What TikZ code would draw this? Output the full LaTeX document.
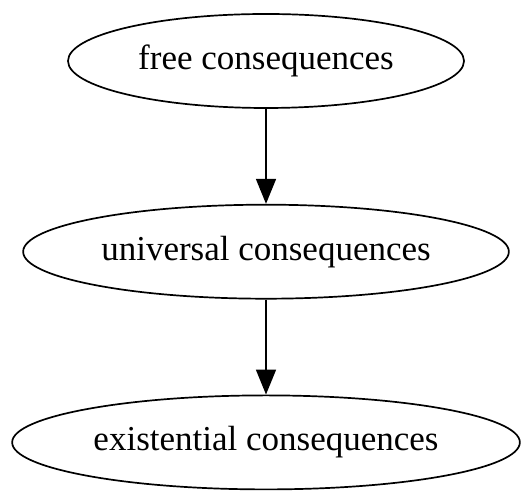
\documentclass[tikz,border=0pt]{standalone}
\usepackage{fontspec}
\setmainfont{Liberation Serif}
\usetikzlibrary{shapes.geometric,positioning,arrows.meta}

\begin{document}
\begin{tikzpicture}[x=1pt,y=1pt,
  conseq/.style={ellipse, draw, line width=1.7pt, inner xsep=7pt, inner ysep=0pt,
    minimum height=94pt, font=\fontsize{35}{42}\selectfont},
  implies/.style={-{Triangle[length=25pt,width=20pt]}, line width=1.7pt},
  node distance=95pt]

% Frame
\useasboundingbox (0,0) rectangle (524,494);

% Nodes
\node[conseq, minimum width=396pt] (free) at (266,433) {free consequences};
\node[conseq, below=of free] (universal) {universal consequences};
\node[conseq, below=of universal] (existential) {existential consequences};

% Edges
\draw[implies] (free) -- (universal);
\draw[implies] (universal) -- (existential);

\end{tikzpicture}
\end{document}
